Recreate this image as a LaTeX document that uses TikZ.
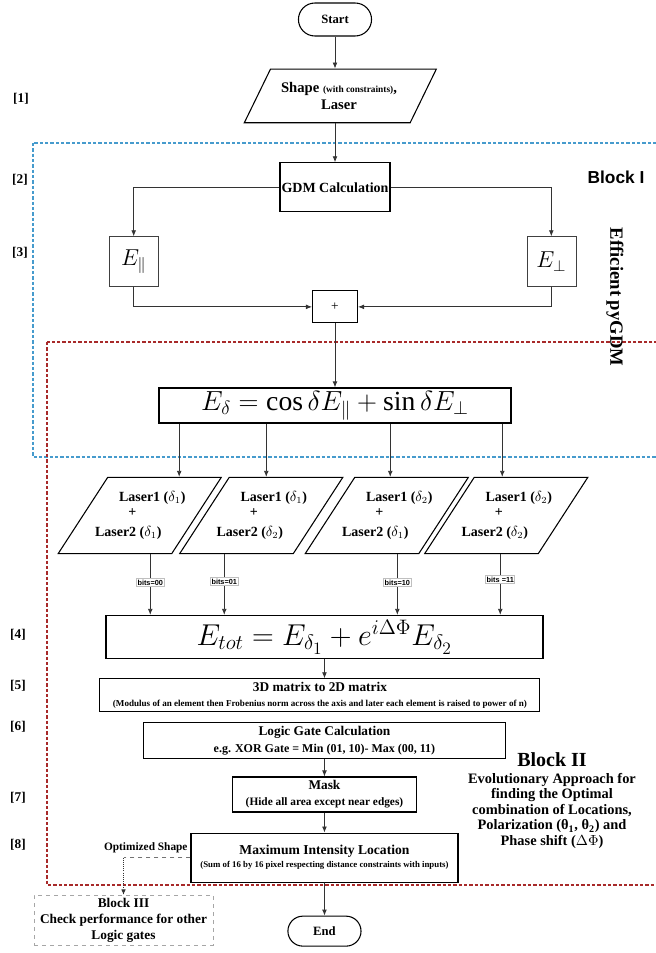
\documentclass[tikz,border=0pt]{standalone}
\usepackage{graphicx}
\usepackage{fontspec}
\setmainfont{Liberation Serif}
\setsansfont{Liberation Sans}
\usetikzlibrary{shapes,positioning,arrows.meta}
\definecolor{blockblue}{RGB}{70,155,205}
\definecolor{blockred}{RGB}{168,42,42}

% text of one laser pair, lines follow the slant of the box
\newcommand{\laserpair}[2]{\makebox[0pt]{\hspace*{18.8pt}Laser1 ($\delta_#1$)}\\[-1.75pt]\makebox[0pt]{+\hspace*{11.2pt}}\\[2pt]\makebox[0pt]{Laser2 ($\delta_#2$)\hspace*{17.2pt}}}

\tikzset{
  arr/.style={draw=black!80, line width=0.6pt, -{Latex[length=4.5pt,width=3.6pt]}},
  term/.style={rounded rectangle, draw, thick, minimum width=61.5pt, font=\bfseries\fontsize{9.5}{11}\selectfont},
  io/.style={trapezium, trapezium stretches body, draw, thick, align=center, inner xsep=1pt},
  laser/.style={io, trapezium left angle=57, trapezium right angle=123, minimum width=122.25pt, inner ysep=10.5pt, font=\bfseries\fontsize{10.5}{13}\selectfont},
  proc/.style={rectangle, draw, thick, align=center, inner sep=1pt, font=\bfseries\fontsize{10}{12}\selectfont},
  field/.style={rectangle, draw=black!75, minimum width=36.75pt, minimum height=37.5pt, font=\fontsize{17.28}{20}\selectfont},
  formula/.style={rectangle, draw, line width=1.1pt, inner sep=0pt, font=\fontsize{20.74}{24}\selectfont},
  bitlabel/.style={draw=black!25, fill=white, inner sep=0.8pt, font=\sffamily\bfseries\fontsize{5.5}{6}\selectfont},
  steplabel/.style={font=\bfseries\fontsize{10}{12}\selectfont},
  blockbox/.style={dash pattern=on 2.5pt off 1.5pt, line width=0.8pt}
}

\begin{document}
\begin{tikzpicture}[x=0.75pt,y=-0.75pt]
\useasboundingbox (0,0) rectangle (656,953);

% BLOCKS
\draw[blockbox, blockblue] (33,143) rectangle (700,457);
\draw[blockbox, blockred] (47,342) rectangle (700,885);

\node[font=\sffamily\bfseries\fontsize{13}{15}\selectfont] (blockone) at (616,177) {Block I};
\node[rotate=-90, font=\bfseries\fontsize{14}{16}\selectfont] (pygdm) at (615,297) {Efficient pyGDM};

\node[font=\bfseries\fontsize{15}{18}\selectfont] (blocktwo) at (552,760) {Block II};
\node[below=0pt of blocktwo, align=center, inner sep=1pt, font=\bfseries\fontsize{10.8}{11.6}\selectfont] (blocktwo-text)
{Evolutionary Approach for\\finding the Optimal\\combination of Locations,\\Polarization (θ\textsubscript{1}, θ\textsubscript{2}) and\\Phase shift ($\Delta\Phi$)};

% STEPS
\node[steplabel] (step-1) at (21,99) {[1]};
\node[steplabel] (step-2) at (20,180) {[2]};
\node[steplabel] (step-3) at (20,253) {[3]};
\node[steplabel] (step-4) at (18,635) {[4]};
\node[steplabel] (step-5) at (18,686) {[5]};
\node[steplabel] (step-6) at (18,727) {[6]};
\node[steplabel] (step-7) at (18,798) {[7]};
\node[steplabel] (step-8) at (18,845) {[8]};

% FLOW
\node[term, minimum height=24.75pt] (start) at (335,19.5) {Start};

\node[io, trapezium left angle=64, trapezium right angle=116, minimum width=144pt, inner ysep=9.75pt, font=\bfseries\fontsize{11}{13}\selectfont, below=24pt of start, xshift=4pt] (input)
{\makebox[0pt]{Shape {\fontsize{7}{8}\selectfont (with constraints)},\hspace*{2pt}}\\\makebox[0pt]{Laser\hspace*{2pt}}};

\node[proc, minimum width=82.5pt, minimum height=36.75pt, font=\bfseries\fontsize{10.5}{12}\selectfont, below=29.25pt of input, xshift=-4pt] (gdm) {GDM Calculation};

\node[field, below left=18pt and 90.75pt of gdm.south west] (epar) {$E_\parallel$};
\node[field, below right=18pt and 102pt of gdm.south east] (eperp) {$E_\perp$};

\node[proc, font=\fontsize{10}{12}\selectfont, minimum width=33.75pt, minimum height=24pt, below=58.5pt of gdm] (plus) {+};

\node[formula, minimum width=264pt, minimum height=26.25pt, below=48pt of plus] (edelta)
{$E_\delta = \cos\delta E_\parallel + \sin\delta E_\perp$};

\node[laser, below=39.75pt of edelta.south west, xshift=-13.9pt] (laser-00) {\laserpair{1}{1}};
\node[laser, below=39.75pt of edelta.south west, xshift=77.25pt] (laser-01) {\laserpair{1}{2}};
\node[laser, below=39.75pt of edelta.south west, xshift=171.4pt] (laser-10) {\laserpair{2}{1}};
\node[laser, below=39.75pt of edelta.south west, xshift=261pt] (laser-11) {\laserpair{2}{2}};

\node[formula, minimum width=327.75pt, minimum height=32.25pt, below=143.25pt of edelta, xshift=-7.9pt] (etot)
{\scalebox{1.09}{$E_{tot} = E_{\delta_1} + e^{i\Delta\Phi}E_{\delta_2}$}};

\node[proc, minimum width=330pt, minimum height=24.75pt, font=\bfseries\fontsize{10}{11.25}\selectfont, below=14.25pt of etot, xshift=-3.4pt] (matrix)
{3D matrix to 2D matrix\\{\fontsize{6.8}{7}\selectfont (Modulus of an element then Frobenius norm across the axis and later each element is raised to power of n)}};

\node[proc, minimum width=271.5pt, minimum height=27pt, font=\bfseries\fontsize{10}{12.75}\selectfont, below=7.5pt of matrix, xshift=3.4pt] (logic)
{Logic Gate Calculation\\{\fontsize{9}{9}\selectfont e.g. XOR Gate = Min (01, 10)- Max (00, 11)}};

\node[proc, minimum width=138pt, minimum height=26.25pt, font=\bfseries\fontsize{10}{12}\selectfont, below=12.75pt of logic] (mask)
{Mask\\{\fontsize{8.5}{9}\selectfont (Hide all area except near edges)}};

\node[proc, minimum width=200.25pt, minimum height=36.75pt, font=\bfseries\fontsize{10.2}{10}\selectfont, below=15pt of mask] (maxint)
{Maximum Intensity Location\\{\fontsize{6.6}{7}\selectfont (Sum of 16 by 16 pixel respecting distance constraints with inputs)}};

\node[term, minimum height=22.5pt, below=24.75pt of maxint] (stop) {End};

\node[proc, draw=black!35, dashed, thin, minimum width=134.25pt, minimum height=37.5pt, font=\bfseries\fontsize{10}{12}\selectfont] (blockthree) at (123.5,920)
{Block III\\Check performance for other\\Logic gates};

% CONNECTORS
\draw[arr] (start.south) -- (start.south |- input.north);
\draw[arr] (gdm.north |- input.south) -- (gdm.north);
\draw[arr] (gdm.west) -| (epar.north);
\draw[arr] (gdm.east) -| (eperp.north);
\draw[arr] (epar.south) |- (plus.west);
\draw[arr] (eperp.south) |- (plus.east);
\draw[arr] (plus) -- (edelta);

\coordinate (in-00) at ([xshift=29.6pt]laser-00.center |- laser-00.north);
\coordinate (in-01) at ([xshift=3.75pt]laser-01.center |- laser-01.north);
\coordinate (in-10) at ([xshift=2.6pt]laser-10.center |- laser-10.north);
\coordinate (in-11) at ([xshift=-3pt]laser-11.center |- laser-11.north);
\coordinate (out-00) at ([xshift=7.9pt]laser-00.center |- laser-00.south);
\coordinate (out-01) at ([xshift=-27.75pt]laser-01.center |- laser-01.south);
\coordinate (out-10) at ([xshift=7.9pt]laser-10.center |- laser-10.south);
\coordinate (out-11) at ([xshift=-4.5pt]laser-11.center |- laser-11.south);

\draw[arr] (in-00 |- edelta.south) -- (in-00);
\draw[arr] (in-01 |- edelta.south) -- (in-01);
\draw[arr] (in-10 |- edelta.south) -- (in-10);
\draw[arr] (in-11 |- edelta.south) -- (in-11);

\draw[arr] (out-00) -- (out-00 |- etot.north) node[bitlabel, pos=0.47] {bits=00};
\draw[arr] (out-01) -- (out-01 |- etot.north) node[bitlabel, pos=0.45] {bits=01};
\draw[arr] (out-10) -- (out-10 |- etot.north) node[bitlabel, pos=0.47] {bits=10};
\draw[arr] (out-11) -- (out-11 |- etot.north) node[bitlabel, pos=0.42] {bits =11};

\draw[arr] (etot.south) -- (etot.south |- matrix.north);
\draw[arr] (logic) -- (mask);
\draw[arr] (mask) -- (maxint);
\draw[arr] (maxint) -- (stop);

% optimized shape goes to block III
\node[above left=2.5pt and 1pt of maxint.west, inner sep=1pt, font=\bfseries\fontsize{8.5}{10}\selectfont] (optshape) {Optimized Shape};
\coordinate (bend) at (maxint.west -| blockthree.north);
\draw[black!55, dashed, line width=0.6pt] (maxint.west) -- (bend);
\draw[black!80, densely dotted, line width=0.6pt, -{Latex[length=4pt,width=3.4pt]}] (bend) -- (blockthree.north);

\end{tikzpicture}
\end{document}
